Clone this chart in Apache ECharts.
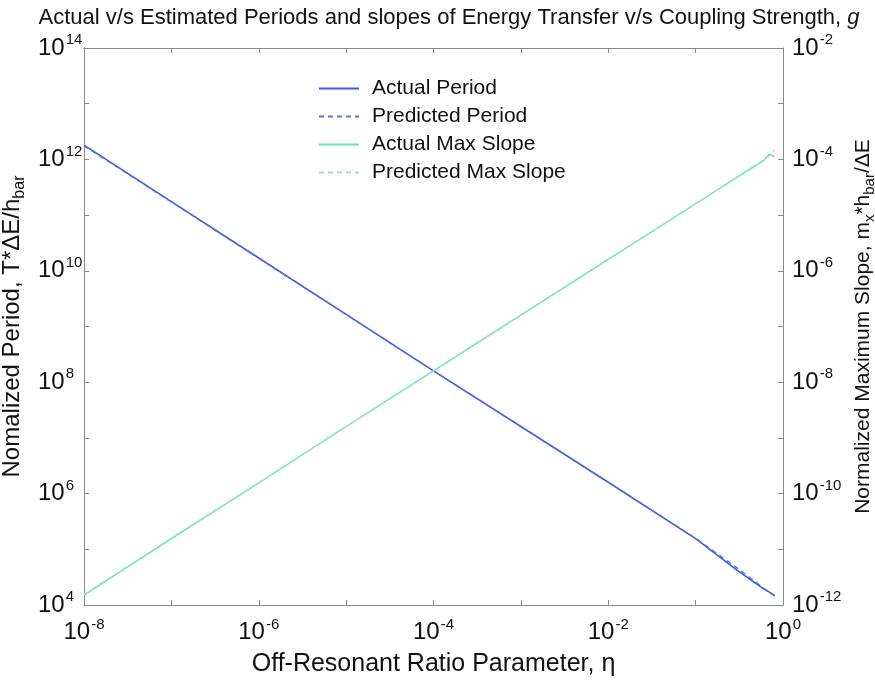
<!DOCTYPE html>
<html>
<head>
<meta charset="utf-8">
<script src="https://cdn.jsdelivr.net/npm/echarts@6/dist/echarts.min.js"></script>
<style>
  html, body { margin: 0; padding: 0; background: #fff; }
  #chart { width: 875px; height: 681px; }
</style>
</head>
<body>
<div id="chart"></div>
<script>
// Off-resonant ratio parameter (x values)
const eta = [1e-8, 1e-7, 1e-6, 1e-5, 1e-4, 1e-3, 1e-2, 1e-1, 0.3, 0.6, 0.7, 0.8];
// Normalized period T*dE/h_bar (left axis)
const actualPeriod    = [1.8e12, 1.75e11, 1.7e10, 1.65e9, 1.6e8, 1.6e7, 1.6e6, 1.55e5, 4.2e4, 1.95e4, 1.7e4, 1.45e4];
const predictedPeriod = [1.75e12, 1.72e11, 1.68e10, 1.64e9, 1.6e8, 1.6e7, 1.6e6, 1.58e5, 4.6e4, 2.0e4, 1.7e4, 1.5e4];
// Normalized maximum slope m_x*h_bar/dE (right axis)
const actualSlope     = [1.5e-12, 1.55e-11, 1.55e-10, 1.6e-9, 1.6e-8, 1.6e-7, 1.6e-6, 1.6e-5, 4.8e-5, 9.5e-5, 1.25e-4, 1.12e-4];
const predictedSlope  = [1.55e-12, 1.58e-11, 1.58e-10, 1.6e-9, 1.6e-8, 1.6e-7, 1.6e-6, 1.6e-5, 4.9e-5, 9.8e-5, 1.15e-4, 1.5e-4];
// Decade tick labels: only every second decade is labelled
const xLabelExps = [-8, -6, -4, -2, 0];
const leftLabelExps = [4, 6, 8, 10, 12, 14];
const rightLabelExps = [-12, -10, -8, -6, -4, -2];

const FONT = '"Liberation Sans", Arial, sans-serif';
const AXIS_COLOR = '#8a8a8a';
const BLUE = '#3b5cd6';
const BLUE_DASH = '#5573e2';
const GREEN = '#6cdcba';
const GREEN_DASH = '#8fe6cc';

function pairs(xs, ys) { return xs.map((x, i) => [x, ys[i]]); }

function powerLabel(allowed) {
  return function (v) {
    const e = Math.round(Math.log10(v));
    if (allowed.indexOf(e) < 0) return '';
    return '{b|10}{s|' + e + '}';
  };
}

const labelRich = {
  b: { fontFamily: FONT, fontSize: 24, color: '#111' },
  s: { fontFamily: FONT, fontSize: 15, color: '#111', padding: [0, 0, 16, 1] }
};

const subRich = (size) => ({
  sub: { fontFamily: FONT, fontSize: size, color: '#111', padding: [size * 0.9, 0, 0, 0] }
});

const chart = echarts.init(document.getElementById('chart'), null, { renderer: 'canvas' });

chart.setOption({
  backgroundColor: '#fff',
  animation: false,
  title: {
    text: 'Actual v/s Estimated Periods and slopes of Energy Transfer v/s Coupling Strength, {i|g}',
    left: 444, top: 2, textAlign: 'center',
    textStyle: {
      fontFamily: FONT, fontSize: 22, fontWeight: 'normal', color: '#111',
      rich: { i: { fontFamily: FONT, fontSize: 22, fontStyle: 'italic', color: '#111' } }
    }
  },
  grid: { left: 84, right: 92, top: 48, bottom: 76, containLabel: false, outerBoundsMode: 'none' },
  legend: {
    left: 313, top: 73, orient: 'vertical', itemGap: 7,
    itemWidth: 40, itemHeight: 14,
    itemStyle: { opacity: 0 },
    textStyle: { fontFamily: FONT, fontSize: 21, lineHeight: 21, color: '#111', padding: [0, 0, 0, 8] },
    data: ['Actual Period', 'Predicted Period', 'Actual Max Slope', 'Predicted Max Slope']
  },
  xAxis: [
    {
      type: 'log', logBase: 10, min: 1e-8, max: 1, interval: 1,
      position: 'bottom',
      name: 'Off-Resonant Ratio Parameter, η', nameLocation: 'middle', nameGap: 47,
      nameTextStyle: { fontFamily: FONT, fontSize: 25, color: '#111' },
      axisLine: { lineStyle: { color: AXIS_COLOR } },
      axisTick: { inside: true, length: 5, lineStyle: { color: AXIS_COLOR } },
      axisLabel: { margin: 12, formatter: powerLabel(xLabelExps), rich: labelRich },
      splitLine: { show: false }
    },
    {
      type: 'log', logBase: 10, min: 1e-8, max: 1, interval: 1,
      position: 'top',
      axisLine: { lineStyle: { color: AXIS_COLOR } },
      axisTick: { inside: true, length: 5, lineStyle: { color: AXIS_COLOR } },
      axisLabel: { show: false },
      splitLine: { show: false }
    }
  ],
  yAxis: [
    {
      type: 'log', logBase: 10, min: 1e4, max: 1e14, interval: 1,
      position: 'left',
      name: 'Nomalized Period, T*ΔE/h{sub|bar}', nameLocation: 'middle', nameGap: 38, nameRotate: 90,
      nameTextStyle: { fontFamily: FONT, fontSize: 24, color: '#111', rich: subRich(16) },
      axisLine: { show: true, lineStyle: { color: AXIS_COLOR } },
      axisTick: { show: true, inside: true, length: 5, lineStyle: { color: AXIS_COLOR } },
      axisLabel: { margin: 46, align: 'left', formatter: powerLabel(leftLabelExps), rich: labelRich },
      splitLine: { show: false }
    },
    {
      type: 'log', logBase: 10, min: 1e-12, max: 1e-2, interval: 1,
      position: 'right',
      name: 'Normalized Maximum Slope, m{sub|x}*h{sub|bar}/ΔE', nameLocation: 'middle', nameGap: 49, nameRotate: 90,
      nameTextStyle: { fontFamily: FONT, fontSize: 21, color: '#111', rich: subRich(15) },
      axisLine: { show: true, lineStyle: { color: AXIS_COLOR } },
      axisTick: { show: true, inside: true, length: 5, lineStyle: { color: AXIS_COLOR } },
      axisLabel: { margin: 9, align: 'left', formatter: powerLabel(rightLabelExps), rich: labelRich },
      splitLine: { show: false }
    }
  ],
  series: [
    {
      name: 'Actual Period', type: 'line', xAxisIndex: 0, yAxisIndex: 0,
      data: pairs(eta, actualPeriod), symbol: 'none', color: BLUE,
      lineStyle: { color: BLUE, width: 1.6 }
    },
    {
      name: 'Predicted Period', type: 'line', xAxisIndex: 0, yAxisIndex: 0,
      data: pairs(eta, predictedPeriod), symbol: 'none', color: BLUE_DASH,
      lineStyle: { color: BLUE_DASH, width: 1.4, type: [5, 4] }
    },
    {
      name: 'Actual Max Slope', type: 'line', xAxisIndex: 0, yAxisIndex: 1,
      data: pairs(eta, actualSlope), symbol: 'none', color: GREEN,
      lineStyle: { color: GREEN, width: 1.4 }
    },
    {
      name: 'Predicted Max Slope', type: 'line', xAxisIndex: 0, yAxisIndex: 1,
      data: pairs(eta, predictedSlope), symbol: 'none', color: GREEN_DASH,
      lineStyle: { color: GREEN_DASH, width: 1.3, type: [5, 4] }
    }
  ]
});
</script>
</body>
</html>
